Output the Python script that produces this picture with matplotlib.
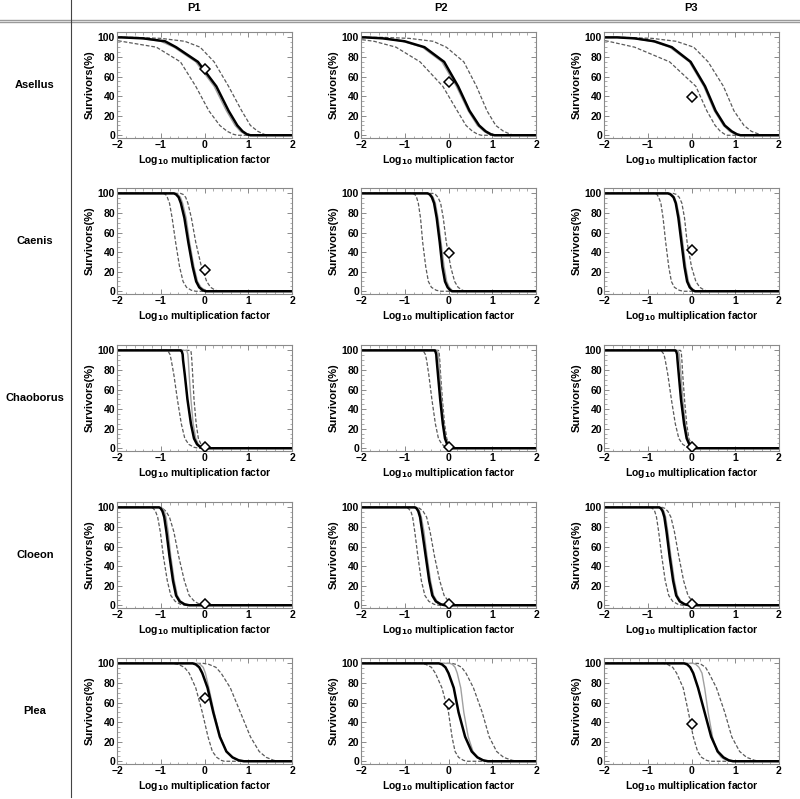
import matplotlib
matplotlib.use("Agg")
import matplotlib.pyplot as plt
from matplotlib.ticker import MultipleLocator
from matplotlib.lines import Line2D

# survival levels (%) at which the x position of each curve was read
LEVELS = [100, 99, 96, 90, 75, 50, 25, 10, 4, 1, 0]

species = ["Asellus", "Caenis", "Chaoborus", "Cloeon", "Plea"]
pages = ["P1", "P2", "P3"]

# x (log10 multiplication factor) of each curve at LEVELS, one list per page
asellus_median = [[-1.9, -1.4, -0.9, -0.65, -0.15, 0.27, 0.55, 0.75, 0.87, 0.97, 1.05],
                  [-1.9, -1.5, -1.0, -0.55, -0.1, 0.22, 0.48, 0.7, 0.85, 0.97, 1.05],
                  [-1.7, -1.3, -0.85, -0.45, -0.02, 0.31, 0.55, 0.76, 0.92, 1.04, 1.12]]
asellus_thin = [[-1.9, -1.45, -1.0, -0.7, -0.2, 0.22, 0.5, 0.7, 0.82, 0.93, 1.0],
                [-1.9, -1.5, -1.05, -0.6, -0.15, 0.18, 0.45, 0.66, 0.81, 0.93, 1.0],
                [-1.7, -1.35, -0.9, -0.5, -0.05, 0.28, 0.52, 0.73, 0.87, 1.0, 1.08]]
asellus_lower = [[-2.6, -2.3, -1.9, -1.1, -0.55, -0.2, 0.1, 0.35, 0.52, 0.66, 0.75],
                 [-2.6, -2.2, -1.7, -1.2, -0.65, -0.13, 0.2, 0.4, 0.55, 0.67, 0.75],
                 [-2.6, -2.3, -1.9, -1.3, -0.5, 0.1, 0.35, 0.54, 0.66, 0.76, 0.82]]
asellus_upper = [[-1.6, -1.0, -0.45, -0.1, 0.22, 0.55, 0.85, 1.05, 1.22, 1.36, 1.45],
                 [-1.5, -0.9, -0.35, -0.05, 0.35, 0.64, 0.88, 1.08, 1.26, 1.42, 1.5],
                 [-1.6, -0.9, -0.35, 0.05, 0.38, 0.73, 0.97, 1.2, 1.37, 1.55, 1.65]]

caenis_median = [[-0.7, -0.65, -0.59, -0.54, -0.46, -0.37, -0.27, -0.19, -0.12, -0.04, 0.03],
                 [-0.48, -0.43, -0.38, -0.33, -0.27, -0.2, -0.14, -0.08, -0.02, 0.04, 0.08],
                 [-0.54, -0.48, -0.41, -0.36, -0.3, -0.23, -0.16, -0.1, -0.04, 0.03, 0.08]]
caenis_thin = [[-0.66, -0.61, -0.55, -0.5, -0.42, -0.34, -0.24, -0.16, -0.08, 0.02, 0.08],
               [-0.45, -0.4, -0.35, -0.3, -0.24, -0.17, -0.1, -0.04, 0.02, 0.08, 0.12],
               [-0.5, -0.45, -0.39, -0.34, -0.27, -0.2, -0.13, -0.07, -0.01, 0.06, 0.1]]
caenis_lower = [[-0.94, -0.89, -0.85, -0.8, -0.74, -0.66, -0.57, -0.49, -0.41, -0.3, -0.2],
                [-0.82, -0.77, -0.73, -0.69, -0.64, -0.59, -0.52, -0.46, -0.39, -0.28, -0.17],
                [-0.84, -0.79, -0.75, -0.7, -0.65, -0.59, -0.52, -0.46, -0.39, -0.28, -0.19]]
caenis_upper = [[-0.55, -0.49, -0.43, -0.38, -0.3, -0.2, -0.07, 0.05, 0.14, 0.25, 0.35],
                [-0.36, -0.3, -0.24, -0.18, -0.12, -0.05, 0.05, 0.14, 0.22, 0.32, 0.4],
                [-0.42, -0.35, -0.28, -0.22, -0.16, -0.1, 0.0, 0.1, 0.19, 0.3, 0.38]]

chaoborus_median = [[-0.54, -0.52, -0.5, -0.49, -0.45, -0.39, -0.31, -0.24, -0.17, -0.09, -0.03],
                    [-0.31, -0.3, -0.28, -0.27, -0.24, -0.19, -0.13, -0.08, -0.03, 0.02, 0.06],
                    [-0.37, -0.35, -0.33, -0.32, -0.29, -0.24, -0.17, -0.11, -0.05, 0.01, 0.05]]
chaoborus_thin = [[-0.41, -0.4, -0.38, -0.37, -0.35, -0.31, -0.26, -0.2, -0.14, -0.06, 0.0],
                  [-0.26, -0.25, -0.23, -0.22, -0.2, -0.16, -0.11, -0.06, -0.01, 0.04, 0.08],
                  [-0.31, -0.3, -0.28, -0.27, -0.24, -0.2, -0.14, -0.08, -0.02, 0.04, 0.08]]
chaoborus_lower = [[-0.86, -0.83, -0.79, -0.76, -0.7, -0.62, -0.53, -0.45, -0.36, -0.24, -0.12],
                   [-0.6, -0.57, -0.53, -0.5, -0.45, -0.38, -0.3, -0.23, -0.15, -0.05, 0.02],
                   [-0.72, -0.68, -0.63, -0.6, -0.54, -0.46, -0.37, -0.29, -0.2, -0.09, 0.0]]
chaoborus_upper = [[-0.32, -0.31, -0.3, -0.29, -0.27, -0.24, -0.19, -0.14, -0.08, 0.0, 0.08],
                   [-0.23, -0.22, -0.21, -0.2, -0.18, -0.14, -0.09, -0.04, 0.01, 0.06, 0.1],
                   [-0.25, -0.24, -0.23, -0.22, -0.2, -0.16, -0.11, -0.06, 0.0, 0.06, 0.1]]

cloeon_median = [[-1.04, -1.0, -0.96, -0.92, -0.87, -0.8, -0.72, -0.65, -0.57, -0.46, -0.35],
                 [-0.77, -0.73, -0.69, -0.65, -0.6, -0.52, -0.44, -0.37, -0.29, -0.18, -0.08],
                 [-0.74, -0.7, -0.66, -0.62, -0.57, -0.5, -0.42, -0.35, -0.27, -0.16, -0.06]]
cloeon_thin = [[-1.0, -0.96, -0.92, -0.88, -0.83, -0.77, -0.69, -0.62, -0.54, -0.43, -0.32],
               [-0.74, -0.7, -0.66, -0.62, -0.56, -0.49, -0.41, -0.34, -0.26, -0.15, -0.05],
               [-0.72, -0.67, -0.63, -0.59, -0.54, -0.47, -0.39, -0.32, -0.24, -0.13, -0.03]]
cloeon_lower = [[-1.22, -1.17, -1.12, -1.07, -1.01, -0.94, -0.85, -0.77, -0.67, -0.55, -0.43],
                [-0.97, -0.92, -0.86, -0.82, -0.77, -0.7, -0.62, -0.54, -0.45, -0.33, -0.22],
                [-0.94, -0.89, -0.84, -0.8, -0.75, -0.68, -0.6, -0.52, -0.43, -0.31, -0.2]]
cloeon_upper = [[-1.02, -0.96, -0.88, -0.8, -0.7, -0.59, -0.46, -0.35, -0.23, -0.11, -0.02],
                [-0.72, -0.66, -0.58, -0.5, -0.42, -0.32, -0.2, -0.1, 0.0, 0.11, 0.2],
                [-0.67, -0.61, -0.54, -0.47, -0.39, -0.29, -0.18, -0.08, 0.02, 0.13, 0.22]]

plea_median = [[-0.27, -0.2, -0.12, -0.05, 0.07, 0.2, 0.35, 0.5, 0.64, 0.78, 0.9],
               [-0.22, -0.15, -0.07, 0.0, 0.12, 0.23, 0.38, 0.53, 0.66, 0.79, 0.9],
               [-0.17, -0.1, -0.03, 0.04, 0.15, 0.3, 0.45, 0.6, 0.73, 0.85, 0.95]]
plea_thin = [[-0.17, -0.1, -0.03, 0.02, 0.1, 0.22, 0.36, 0.5, 0.63, 0.76, 0.85],
             [0.03, 0.09, 0.15, 0.2, 0.28, 0.35, 0.45, 0.56, 0.67, 0.79, 0.88],
             [0.04, 0.1, 0.17, 0.24, 0.3, 0.38, 0.48, 0.58, 0.68, 0.79, 0.88]]
plea_lower = [[-0.72, -0.6, -0.46, -0.35, -0.2, -0.05, 0.08, 0.18, 0.28, 0.38, 0.45],
              [-0.62, -0.52, -0.39, -0.3, -0.15, 0.0, 0.08, 0.15, 0.23, 0.34, 0.42],
              [-0.64, -0.55, -0.43, -0.34, -0.19, -0.07, 0.04, 0.14, 0.23, 0.34, 0.42]]
plea_upper = [[-0.02, 0.1, 0.26, 0.38, 0.59, 0.82, 1.05, 1.25, 1.41, 1.58, 1.7],
              [0.08, 0.17, 0.3, 0.4, 0.57, 0.77, 0.93, 1.1, 1.26, 1.45, 1.58],
              [0.15, 0.22, 0.32, 0.4, 0.57, 0.76, 0.92, 1.1, 1.26, 1.44, 1.55]]

# observed survival at the field exposure (x = 0)
diamond_x = 0.0
diamond_y = [[68, 54, 39],
             [22, 39, 42],
             [1, 1, 1],
             [1, 1, 1],
             [65, 59, 38]]

median = [asellus_median, caenis_median, chaoborus_median, cloeon_median, plea_median]
thin = [asellus_thin, caenis_thin, chaoborus_thin, cloeon_thin, plea_thin]
lower = [asellus_lower, caenis_lower, chaoborus_lower, cloeon_lower, plea_lower]
upper = [asellus_upper, caenis_upper, chaoborus_upper, cloeon_upper, plea_upper]

plt.rcParams["font.family"] = ["Liberation Sans", "DejaVu Sans"]
plt.rcParams["font.weight"] = "bold"
plt.rcParams["mathtext.default"] = "bf"

W, H = 800, 799
fig = plt.figure(figsize=(W / 100, H / 100), dpi=100)


def fx(px):
    return px / W


def fy(py):
    return 1 - py / H


col_left = [117, 361, 604]
col_title_x = [194, 441, 691]
row_top = [32, 188, 345, 502, 658]
ax_w, ax_h = 175, 106
XMIN, XMAX = -2.0, 2.0
frame_col = "#8a8a8a"


def full_curve(xs):
    # flat at 100% before the first level and at 0% after the last one
    return [XMIN - 1] + list(xs) + [XMAX + 1], [100] + LEVELS + [0]


for i, sp in enumerate(species):
    for j, pg in enumerate(pages):
        ax = fig.add_axes([fx(col_left[j]), fy(row_top[i] + ax_h), ax_w / W, ax_h / H])
        for xs, style in [
            (lower[i][j], dict(color="#5a5a5a", lw=0.9, ls=(0, (3, 1.5)))),
            (upper[i][j], dict(color="#5a5a5a", lw=0.9, ls=(0, (3, 1.5)))),
            (thin[i][j], dict(color="#a0a0a0", lw=1.0, ls="-")),
            (median[i][j], dict(color="black", lw=1.8, ls="-")),
        ]:
            cx, cy = full_curve(xs)
            ax.plot(cx, cy, solid_joinstyle="round", **style)
        ax.plot([diamond_x], [diamond_y[i][j]], marker="D", ms=5.5, mfc="white",
                mec="black", mew=1.1, ls="none", zorder=5)

        ax.set_xlim(XMIN, XMAX)
        ax.set_ylim(-2.8, 105.5)
        ax.xaxis.set_major_locator(MultipleLocator(1))
        ax.xaxis.set_minor_locator(MultipleLocator(0.2))
        ax.yaxis.set_major_locator(MultipleLocator(20))
        ax.yaxis.set_minor_locator(MultipleLocator(5))
        ax.tick_params(which="both", direction="in", top=True, right=True,
                       color=frame_col, labelsize=7.5, pad=1.5)
        ax.tick_params(which="major", length=3.5, width=0.7)
        ax.tick_params(which="minor", length=1.8, width=0.5)
        ax.set_xticks([-2, -1, 0, 1, 2])
        ax.set_xticklabels(["\u22122", "\u22121", "0", "1", "2"])
        for lab in ax.get_xticklabels() + ax.get_yticklabels():
            lab.set_fontweight("bold")
        for s in ax.spines.values():
            s.set_color(frame_col)
            s.set_linewidth(0.8)
        ax.set_ylabel("Survivors(%)", fontsize=8, fontweight="bold", labelpad=2)
        ax.set_xlabel("Log$_{10}$ multiplication factor", fontsize=7.5,
                      fontweight="bold", labelpad=2)

    fig.text(fx(35), fy(row_top[i] + ax_h / 2), sp, ha="center", va="center",
             fontsize=8, fontweight="bold")

for j, pg in enumerate(pages):
    fig.text(fx(col_title_x[j]), fy(8), pg, ha="center", va="center",
             fontsize=8, fontweight="bold")

# table rules
fig.add_artist(Line2D([0, 1], [fy(20), fy(20)], color="#9a9a9a", lw=1.0))
fig.add_artist(Line2D([0, 1], [fy(22), fy(22)], color="#9a9a9a", lw=1.0))
fig.add_artist(Line2D([fx(71), fx(71)], [fy(0), fy(797)], color="#444444", lw=0.8))

fig.savefig("out.png", dpi=100)
